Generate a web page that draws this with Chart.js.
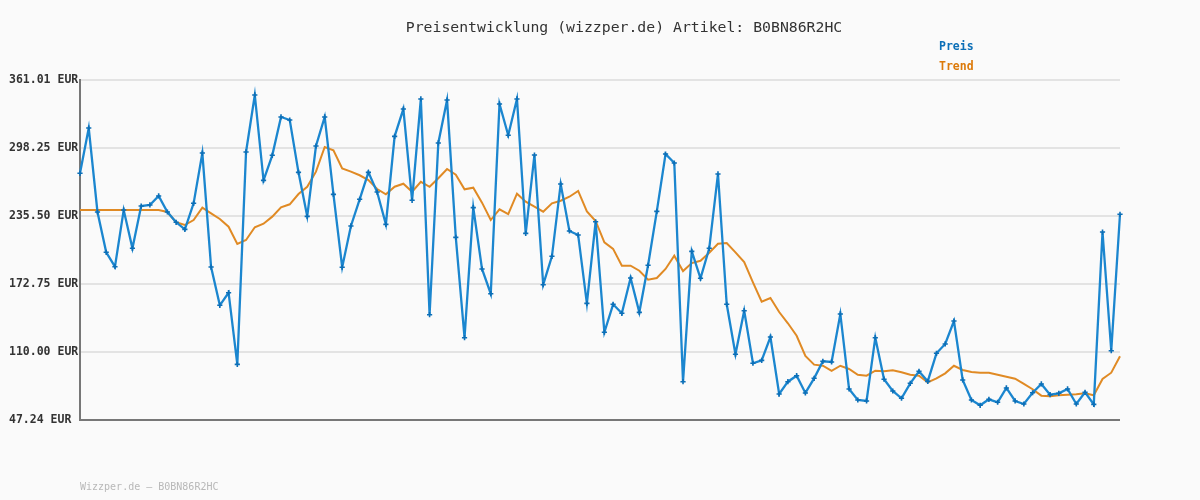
<!DOCTYPE html>
<html>
<head>
<meta charset="utf-8">
<script src="https://cdn.jsdelivr.net/npm/chart.js@4/dist/chart.umd.min.js"></script>
<style>
  html, body { margin: 0; padding: 0; background: #fafafa; }
  #wrap { width: 1200px; height: 500px; position: relative; }
</style>
</head>
<body>
<div id="wrap"><canvas id="c" width="1200" height="500"></canvas></div>
<script>
const chartTitle = 'Preisentwicklung (wizzper.de) Artikel: B0BN86R2HC';
const footerText = 'Wizzper.de – B0BN86R2HC';
const seriesNames = ['Preis', 'Trend'];
const tickValues = [47.24, 110.00, 172.75, 235.50, 298.25, 361.01];
const tickLabels = ['47.24 EUR', '110.00 EUR', '172.75 EUR', '235.50 EUR', '298.25 EUR', '361.01 EUR'];

const preis = [
  274.9, 316.7, 239.2, 202.0, 188.7, 241.0, 205.7, 244.7, 245.7, 254.0,
  239.2, 229.7, 223.2, 247.2, 293.6, 188.4, 153.1, 164.7, 98.6, 294.6,
  347.2, 268.4, 291.5, 326.9, 324.1, 275.8, 235.2, 300.1, 326.9, 255.5,
  188.2, 226.3, 250.9, 275.8, 257.6, 227.8, 309.0, 334.2, 250.0, 343.5,
  144.4, 302.9, 342.5, 215.8, 123.2, 243.2, 186.6, 163.8, 338.9, 310.0,
  343.5, 219.5, 291.8, 172.1, 198.3, 265.0, 221.7, 218.0, 154.9, 230.2,
  128.2, 154.0, 145.7, 178.3, 146.6, 190.0, 239.8, 292.7, 284.4, 82.6,
  202.9, 178.0, 205.7, 274.3, 154.0, 107.9, 148.1, 99.6, 102.3, 123.8,
  71.2, 82.6, 88.1, 72.2, 85.7, 101.4, 100.8, 145.1, 75.9, 65.7,
  64.8, 123.2, 84.9, 74.0, 67.3, 81.1, 92.2, 82.9, 108.8, 117.4,
  138.6, 84.2, 65.7, 60.8, 66.3, 63.6, 76.8, 64.8, 62.0, 72.4,
  80.5, 70.6, 71.9, 75.9, 62.0, 72.8, 61.7, 220.7, 111.2, 237.1
];

const trend = [
  241.0, 241.0, 241.0, 241.0, 241.0, 241.0, 241.0, 241.0, 241.0, 241.0,
  239.2, 229.7, 227.2, 231.8, 243.2, 238.0, 232.7, 225.6, 209.7, 213.4,
  225.1, 228.4, 234.9, 243.5, 246.3, 255.8, 262.5, 276.4, 299.2, 296.1,
  279.3, 276.4, 273.1, 268.7, 260.4, 255.5, 262.5, 265.3, 257.9, 267.1,
  262.5, 270.3, 278.9, 273.6, 260.1, 261.6, 247.8, 231.8, 241.7, 237.3,
  256.1, 248.7, 244.1, 239.5, 247.2, 249.6, 253.3, 258.6, 239.8, 230.9,
  211.2, 205.2, 189.6, 189.6, 185.0, 176.7, 178.3, 186.6, 198.9, 184.7,
  192.1, 194.2, 201.6, 209.9, 210.6, 202.0, 193.0, 174.3, 156.4, 159.8,
  146.9, 136.5, 125.0, 106.3, 98.3, 97.3, 92.5, 97.3, 94.3, 89.0,
  88.1, 92.7, 92.2, 93.1, 91.3, 89.0, 88.1, 82.0, 85.7, 90.3,
  97.3, 93.4, 91.5, 90.9, 90.9, 89.0, 87.2, 85.4, 80.5, 75.6,
  69.7, 69.1, 70.0, 70.6, 70.9, 71.9, 70.0, 85.1, 90.9, 106.0
];

const categories = preis.map((_, i) => String(i + 1));

const BLUE = '#1b86cf';
const BLUE_DARK = '#0c6fb7';
const ORANGE = '#e08a24';
const ORANGE_TEXT = '#dc7a0a';

const textPlugin = {
  id: 'textPlugin',
  afterDraw(chart) {
    const ctx = chart.ctx;
    ctx.save();
    ctx.textBaseline = 'middle';
    ctx.fillStyle = '#333';
    ctx.font = '14.8px "DejaVu Sans Mono", monospace';
    ctx.textAlign = 'center';
    ctx.fillText(chartTitle, 624, 28);
    ctx.textAlign = 'left';
    ctx.font = 'bold 11.5px "DejaVu Sans Mono", monospace';
    ctx.fillStyle = BLUE_DARK;
    ctx.fillText(seriesNames[0], 939, 47);
    ctx.fillStyle = ORANGE_TEXT;
    ctx.fillText(seriesNames[1], 939, 67);
    ctx.font = '10px "DejaVu Sans Mono", monospace';
    ctx.fillStyle = '#b8b8b8';
    ctx.fillText(footerText, 80, 487);
    ctx.restore();
  }
};

new Chart(document.getElementById('c'), {
  type: 'line',
  data: {
    labels: categories,
    datasets: [
      {
        label: seriesNames[1],
        data: trend,
        borderColor: ORANGE,
        borderWidth: 2,
        pointRadius: 0,
        tension: 0,
        fill: false,
        order: 2
      },
      {
        label: seriesNames[0],
        data: preis,
        borderColor: BLUE,
        borderWidth: 2.3,
        pointStyle: 'cross',
        pointRadius: 2.6,
        pointBorderWidth: 1.6,
        pointBorderColor: BLUE_DARK,
        pointBackgroundColor: BLUE_DARK,
        tension: 0,
        fill: false,
        order: 1
      }
    ]
  },
  options: {
    responsive: false,
    animation: false,
    devicePixelRatio: 1,
    layout: { padding: { left: 9, right: 80, top: 80, bottom: 80 } },
    plugins: {
      legend: { display: false },
      title: { display: false },
      tooltip: { enabled: false }
    },
    scales: {
      x: {
        display: false,
        offset: false
      },
      y: {
        min: tickValues[0],
        max: tickValues[tickValues.length - 1],
        afterBuildTicks(scale) {
          scale.ticks = tickValues.map(v => ({ value: v }));
        },
        afterFit(scale) { scale.width = 71; },
        border: { display: true, color: '#777', width: 2 },
        grid: {
          drawTicks: false,
          lineWidth: 2,
          color: (c) => c.index === 0 ? '#777' : '#e3e3e3'
        },
        ticks: {
          crossAlign: 'far',
          padding: 0,
          color: '#333',
          font: { family: '"DejaVu Sans Mono", monospace', size: 11.5, weight: 'bold' },
          callback: (v, i) => tickLabels[i]
        }
      }
    }
  },
  plugins: [textPlugin]
});
</script>
</body>
</html>
